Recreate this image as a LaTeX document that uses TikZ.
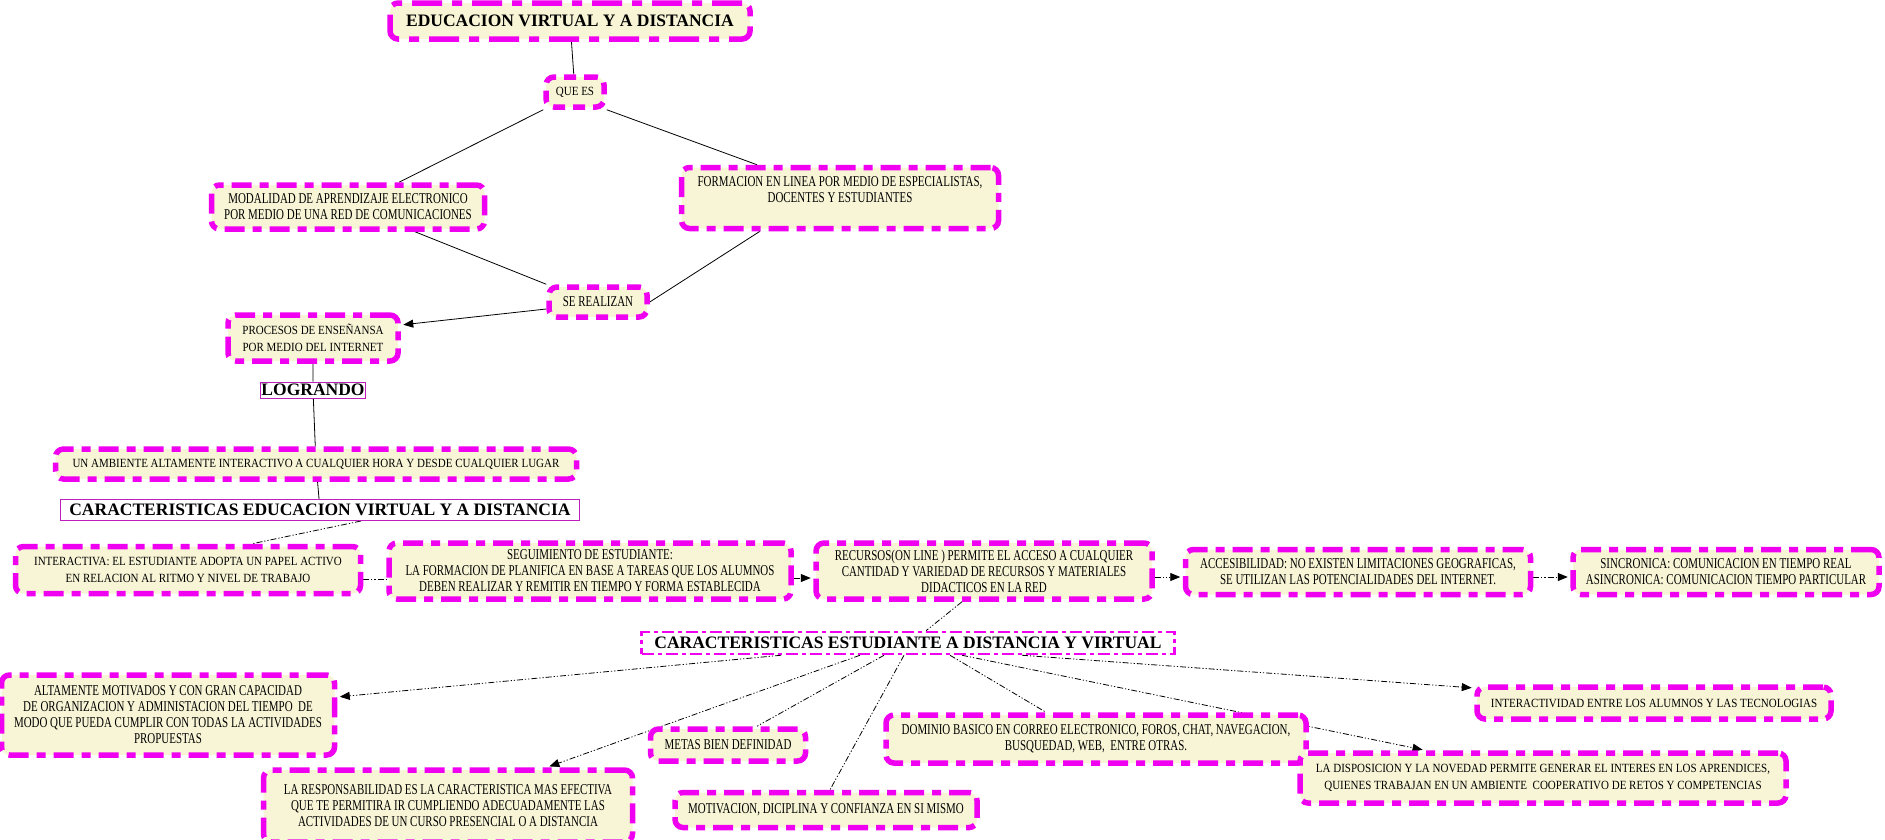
\documentclass[tikz,border=0pt]{standalone}
\usepackage{fontspec}
\setmainfont{Liberation Serif}
\newfontfamily\condfont{Liberation Serif}[FakeStretch=0.73]
\newfontfamily\capfont{Liberation Serif}[FakeStretch=0.88]
\usepackage{tikz}
\usetikzlibrary{arrows.meta}
\usetikzlibrary{backgrounds}
\definecolor{mapfill}{RGB}{248,245,214}
\definecolor{mapline}{RGB}{240,0,240}
\definecolor{mapedge}{RGB}{190,30,190}

\begin{document}
\begin{tikzpicture}[x=1pt,y=-1pt,
  mapbox/.style={draw=mapline,fill=mapfill,line width=5.5pt,rounded corners=8pt,
    dash pattern=on 20pt off 8pt on 9pt off 8pt,align=center,inner sep=2pt,
    font=\condfont\fontsize{15}{16}\selectfont},
  capbox/.style={mapbox,font=\capfont\fontsize{12.5}{17}\selectfont},
  headtxt/.style={font=\bfseries\fontsize{17.5}{20}\selectfont,inner sep=1pt},
  solidln/.style={draw,line width=0.8pt},
  dashln/.style={solidln,dash pattern=on 6pt off 2pt on 1.2pt off 2pt on 1.2pt off 2pt},
  arrowln/.style={-{Triangle[length=10pt,width=8pt]},shorten >=2.5pt}]
\useasboundingbox (0,0) rectangle (1885,839);

\node[mapbox,dash pattern=on 30pt off 10pt on 10pt off 10pt,minimum width=360pt,minimum height=36pt,headtxt] (titulo) at (570,21) {EDUCACION VIRTUAL Y A DISTANCIA};
\node[capbox,dash pattern=on 12pt off 8pt,minimum width=58pt,minimum height=30pt] (quees) at (575,92) {QUE ES};
\node[mapbox,minimum width=273pt,minimum height=44pt] (modal) at (348,207) {MODALIDAD DE APRENDIZAJE ELECTRONICO\\POR MEDIO DE UNA RED DE COMUNICACIONES};
\node[mapbox,minimum width=317pt,minimum height=61pt] (formacion) at (840,198) {FORMACION EN LINEA POR MEDIO DE ESPECIALISTAS,\\DOCENTES Y ESTUDIANTES\\\mbox{}};
\node[mapbox,dash pattern=on 12pt off 8pt,minimum width=98pt,minimum height=30pt] (realizan) at (598,302) {SE REALIZAN};
\node[capbox,minimum width=170pt,minimum height=46pt] (procesos) at (313,338) {PROCESOS DE ENSEÑANSA\\POR MEDIO DEL INTERNET};
\node[headtxt,draw=mapedge,line width=1pt,minimum width=101pt,minimum height=16pt] (logrando) at (313,390) {LOGRANDO};
\node[capbox,minimum width=521pt,minimum height=30pt] (ambiente) at (316,464) {UN AMBIENTE ALTAMENTE INTERACTIVO A CUALQUIER HORA Y DESDE CUALQUIER LUGAR};
\node[headtxt,draw=mapedge,line width=1pt,minimum width=519pt,minimum height=21pt] (caredu) at (320,510) {CARACTERISTICAS EDUCACION VIRTUAL Y A DISTANCIA};

\node[capbox,minimum width=345pt,minimum height=47pt] (interactiva) at (188,570) {INTERACTIVA: EL ESTUDIANTE ADOPTA UN PAPEL ACTIVO\\EN RELACION AL RITMO Y NIVEL DE TRABAJO};
\node[mapbox,minimum width=402pt,minimum height=56pt] (seguimiento) at (590,571) {SEGUIMIENTO DE ESTUDIANTE:\\LA FORMACION DE PLANIFICA EN BASE A TAREAS QUE LOS ALUMNOS\\DEBEN REALIZAR Y REMITIR EN TIEMPO Y FORMA ESTABLECIDA};
\node[mapbox,minimum width=336pt,minimum height=56pt] (recursos) at (984,571) {RECURSOS(ON LINE ) PERMITE EL ACCESO A CUALQUIER\\CANTIDAD Y VARIEDAD DE RECURSOS Y MATERIALES\\DIDACTICOS EN LA RED};
\node[mapbox,minimum width=345pt,minimum height=45pt] (accesib) at (1358,572) {ACCESIBILIDAD: NO EXISTEN LIMITACIONES GEOGRAFICAS,\\SE UTILIZAN LAS POTENCIALIDADES DEL INTERNET.};
\node[mapbox,minimum width=306pt,minimum height=45pt] (sincron) at (1726,572) {SINCRONICA: COMUNICACION EN TIEMPO REAL\\ASINCRONICA: COMUNICACION TIEMPO PARTICULAR};

\node[headtxt,draw=mapline,line width=2.5pt,dash pattern=on 12pt off 4pt on 4pt off 4pt,minimum width=533pt,minimum height=22pt] (carest) at (908,643) {CARACTERISTICAS ESTUDIANTE A DISTANCIA Y VIRTUAL};
\node[mapbox,minimum width=333pt,minimum height=80pt] (altamente) at (168,715) {ALTAMENTE MOTIVADOS Y CON GRAN CAPACIDAD\\DE ORGANIZACION Y ADMINISTACION DEL TIEMPO\ \ DE\\MODO QUE PUEDA CUMPLIR CON TODAS LA ACTIVIDADES\\PROPUESTAS};
\node[mapbox,minimum width=155pt,minimum height=32pt] (metas) at (728,745) {METAS BIEN DEFINIDAD};
\node[mapbox,minimum width=420pt,minimum height=48pt] (dominio) at (1096,739) {DOMINIO BASICO EN CORREO ELECTRONICO, FOROS, CHAT, NAVEGACION,\\BUSQUEDAD, WEB,\ \ ENTRE OTRAS.};
\node[capbox,minimum width=354pt,minimum height=32pt] (interactividad) at (1654,703) {INTERACTIVIDAD ENTRE LOS ALUMNOS Y LAS TECNOLOGIAS};
\node[mapbox,minimum width=369pt,minimum height=72pt] (responsab) at (448,806) {LA RESPONSABILIDAD ES LA CARACTERISTICA MAS EFECTIVA\\QUE TE PERMITIRA IR CUMPLIENDO ADECUADAMENTE LAS\\ACTIVIDADES DE UN CURSO PRESENCIAL O A DISTANCIA};
\node[mapbox,minimum width=302pt,minimum height=35pt] (motivacion) at (826,810) {MOTIVACION, DICIPLINA Y CONFIANZA EN SI MISMO};
\node[capbox,minimum width=486pt,minimum height=50pt] (disposicion) at (1543,778) {LA DISPOSICION Y LA NOVEDAD PERMITE GENERAR EL INTERES EN LOS APRENDICES,\\QUIENES TRABAJAN EN UN AMBIENTE\ \ COOPERATIVO DE RETOS Y COMPETENCIAS};

\begin{scope}[on background layer]
\draw[solidln] (titulo) -- (quees);
\draw[solidln] (quees.south west) -- ([xshift=51pt]modal.north);
\draw[solidln] (quees.south east) -- ([xshift=-83pt]formacion.north);
\draw[solidln] ([xshift=67pt]modal.south) -- (realizan.north west);
\draw[solidln] ([xshift=-80pt]formacion.south) -- (realizan.east);
\draw[solidln,arrowln] ([yshift=-7pt]realizan.west) -- ([yshift=13pt]procesos.east);
\draw[solidln] (procesos) -- (logrando) -- (ambiente);
\draw[solidln] (ambiente) -- (caredu);

\draw[dashln] ([xshift=41pt]caredu.south) -- ([xshift=64pt]interactiva.north);
\draw[dashln] ([yshift=-9pt]interactiva.east) -- ([yshift=-8pt]seguimiento.west);
\draw[dashln,arrowln] ([yshift=-7pt]seguimiento.east) -- ([yshift=-7pt]recursos.west);
\draw[dashln,arrowln] ([yshift=-6pt]recursos.east) -- ([yshift=-5pt]accesib.west);
\draw[dashln,arrowln] ([yshift=-5pt]accesib.east) -- ([yshift=-5pt]sincron.west);
\draw[dashln] ([xshift=-22pt]recursos.south) -- ([xshift=18pt]carest.north);

\draw[dashln,arrowln] ([xshift=-127pt]carest.south) -- ([yshift=18pt]altamente.east);
\draw[dashln,arrowln] ([xshift=-48pt]carest.south) -- ([xshift=99pt]responsab.north);
\draw[dashln] ([xshift=-24pt]carest.south) -- ([xshift=29pt]metas.north);
\draw[dashln] ([xshift=-4pt]carest.south) -- ([xshift=4pt]motivacion.north);
\draw[dashln] ([xshift=42pt]carest.south) -- ([xshift=-50pt]dominio.north);
\draw[dashln,arrowln] ([xshift=54pt]carest.south) -- ([xshift=-118pt]disposicion.north);
\draw[dashln,arrowln] ([xshift=114pt]carest.south) -- ([yshift=15pt]interactividad.west);
\end{scope}
\end{tikzpicture}
\end{document}
